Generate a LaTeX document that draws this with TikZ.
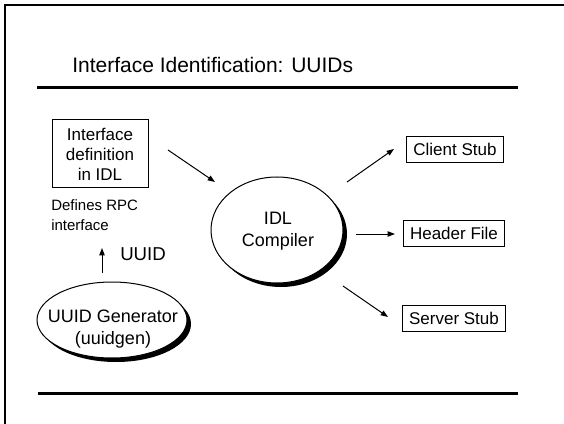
\documentclass[tikz,border=0pt]{standalone}
\usepackage{fontspec}
\setmainfont{Liberation Sans}
\usetikzlibrary{arrows.meta}

\begin{document}
\begin{tikzpicture}[x=0.75pt,y=0.75pt,yscale=-1,xscale=1,
  box/.style={draw,line width=0.75,inner xsep=5pt,inner ysep=0pt,minimum height=19.5pt,font=\fontsize{12.75}{15}\selectfont},
  blob/.style={align=center,inner sep=0pt,font=\fontsize{13.5}{16.5}\selectfont},
  arr/.style={line width=0.75,-{Triangle[length=5.5pt,width=4pt]}},
  rule/.style={line width=2.25}]
\useasboundingbox (0,0) rectangle (564,424);

%Frame
\draw [line width=1.9]  (5,430) -- (5,5) -- (570,5) ;

%Straight Lines
\draw [rule]  (37,88) -- (518,88) ;
\draw [rule]  (38,393) -- (518,393) ;

% Text Node
\node (title) at (72,73) [anchor=base west,inner sep=0pt,font=\fontsize{15.75}{18}\selectfont] {Interface Identification: UUIDs};

%Shape: Rectangle
\node (iface) at (100,154) [box,align=center,minimum width=72pt,minimum height=51pt] {Interface\\definition\\in IDL};
% Text Node
\node (defines) at (51,215) [anchor=west,align=left,inner sep=0pt,font=\fontsize{11.25}{15}\selectfont] {Defines RPC\\interface};

%Shape: Ellipse (shadow, then face)
\fill  (281,234) ellipse [x radius=66, y radius=53] ;
\draw [line width=0.75,fill=white]  (277,230) ellipse [x radius=66, y radius=53] ;
\node (idl) at (278,231) [blob] {IDL\\Compiler};

%Shape: Ellipse (shadow, then face)
\fill  (116,324) ellipse [x radius=75, y radius=38] ;
\draw [line width=0.75,fill=white]  (112,320) ellipse [x radius=75, y radius=38] ;
\node (gen) at (113,329) [blob] {UUID Generator\\(uuidgen)};

% Text Node
\node (uuidlbl) at (120,254) [anchor=west,inner sep=0pt,font=\fontsize{14}{16}\selectfont] {UUID};

%Shape: Rectangle
\node (client) at (455,149.5) [box] {Client Stub};
\node (header) at (454,233.5) [box] {Header File};
\node (server) at (454,318.5) [box] {Server Stub};

%Arrow ends
\coordinate (genout) at (102,273);
\coordinate (genin) at (102,248);
\coordinate (ifaceout) at (168,150);
\coordinate (idlin) at (215,182);
\coordinate (idlup) at (347,182);
\coordinate (clientin) at (394,149);
\coordinate (idlmid) at (356,234);
\coordinate (headerin) at (395,234);
\coordinate (idldown) at (343,286);
\coordinate (serverin) at (388,317);

%Straight Lines
\draw [arr]  (genout) -- (genin) ;
\draw [arr]  (ifaceout) -- (idlin) ;
\draw [arr]  (idlup) -- (clientin) ;
\draw [arr]  (idlmid) -- (headerin) ;
\draw [arr]  (idldown) -- (serverin) ;
\end{tikzpicture}
\end{document}
